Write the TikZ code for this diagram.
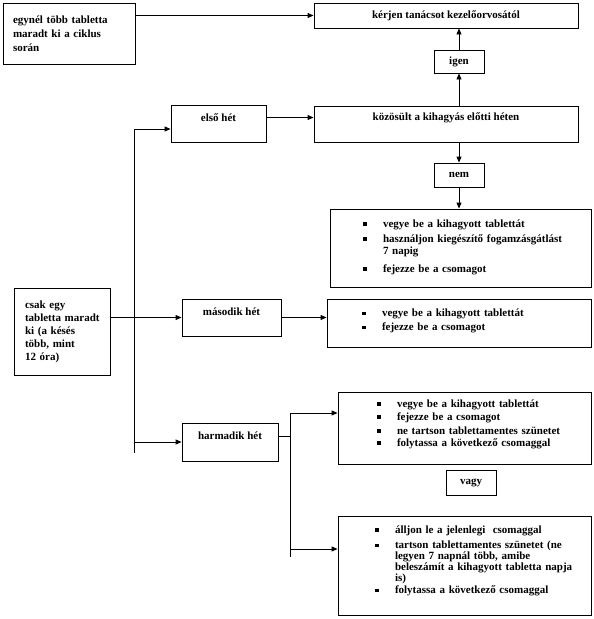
\documentclass[tikz,border=0pt]{standalone}
\usepackage{fontspec}
\setmainfont{Liberation Serif}
\usetikzlibrary{arrows.meta, positioning}

\newcommand{\pont}{\makebox[20pt][l]{\rule[1.5pt]{3.5pt}{3.5pt}}}
\newcommand{\beljebb}{\hspace*{20pt}}

\begin{document}
\lineskiplimit=-20pt
\begin{tikzpicture}[x=1pt, y=-1pt, line width=0.9pt,
    every node/.style={font=\fontsize{11}{12}\selectfont\bfseries},
    keret/.style 2 args={draw, inner sep=0pt, minimum width=#1, minimum height=#2},
    magas/.style={text height=16pt, text depth=21pt},
    lista/.style={align=left, inner xsep=4pt, text width=#1},
    nyil/.style={-{Triangle[length=6pt, width=5pt]}}]
    \useasboundingbox (0,0) rectangle (594,619);

    % Felso resz
    \node[keret={132pt}{61pt}, lista={124pt}, font=\fontsize{11}{14}\selectfont\bfseries]
        (egynel) at (69,33.5) {\leftskip=6pt egynél több tabletta\\ maradt ki a ciklus\\ során\par};
    \node[keret={264pt}{25pt}] (kerjen) at (446,15.5) {kérjen tanácsot kezelőorvosától};
    \node[keret={50pt}{23pt}] (igen) at (459,61.5) {igen};
    \node[keret={264pt}{36pt}, text height=14pt, text depth=22pt] (kozosult) at (446,124) {közösült a kihagyás előtti héten};
    \node[keret={95pt}{37pt}, magas] (elso) at (218.5,123.5) {első hét};
    \node[keret={50pt}{24pt}] (nem) at (459,175) {nem};
    \node[keret={261pt}{78pt}, lista={253pt}] (lista1) at (460.5,248)
        {\leftskip=29pt
         \pont vegye be a kihagyott tablettát\\[3pt]
         \pont használjon kiegészítő fogamzásgátlást\\
         \beljebb 7 napig\\[6pt]
         \pont fejezze be a csomagot\par\kern2pt};

    % Kozepso resz
    \node[keret={96pt}{87pt}, lista={88pt}, font=\fontsize{11}{13}\selectfont\bfseries]
        (csak) at (62,331.5) {\leftskip=7pt csak egy\\ tabletta maradt\\ ki (a késés\\ több, mint\\ 12 óra)\par};
    \node[keret={99pt}{37pt}, magas] (masodik) at (231.5,317.5) {második hét};
    \node[keret={264pt}{48pt}, lista={256pt}] (lista2) at (459,323)
        {\leftskip=31pt
         \pont vegye be a kihagyott tablettát\\[2pt]
         \pont fejezze be a csomagot\par\kern4pt};

    % Also resz
    \node[keret={96pt}{38pt}, magas] (harmadik) at (230,442) {harmadik hét};
    \node[keret={253pt}{72pt}, lista={245pt}] (lista3) at (464.5,428)
        {\leftskip=35pt
         \pont vegye be a kihagyott tablettát\\[1pt]
         \pont fejezze be a csomagot\\[2pt]
         \pont ne tartson tablettamentes szünetet\\
         \pont folytassa a következő csomaggal\par\kern8pt};
    \node[keret={50pt}{25pt}] (vagy) at (471,482.5) {vagy};
    \node[keret={253pt}{99pt}, lista={245pt}, font=\fontsize{11}{9.5}\selectfont\bfseries] (lista4) at (464.5,565.5)
        {\leftskip=33pt
         \pont álljon le a jelenlegi\ \ csomaggal\\[4pt]
         \pont tartson tablettamentes szünetet (ne\\
         \beljebb legyen 7 napnál több, amibe\\
         \beljebb beleszámít a kihagyott tabletta napja\\
         \beljebb is)\\[1pt]
         \pont folytassa a következő csomaggal\par\kern9pt};

    % Ag pontok
    \coordinate (torzs1) at (134,129);
    \coordinate (torzs2) at (134,453);
    \coordinate (ag1) at (290,413);
    \coordinate (ag2) at (290,557);

    % Nyilak
    \draw[nyil] (egynel.east |- kerjen.west) -- (kerjen.west);
    \draw[nyil] (igen.south |- kozosult.north) -- (igen.south);
    \draw[nyil] (igen.north) -- (igen.north |- kerjen.south);
    \draw[nyil] (nem.north |- kozosult.south) -- (nem.north);
    \draw[nyil] (nem.south) -- (nem.south |- lista1.north);
    \draw[nyil] ([yshift=6pt]elso.east) -- ([yshift=6pt]elso.east -| kozosult.west);
    \draw (torzs1) -- (torzs2);
    \draw[nyil] (torzs1) -- (torzs1 -| elso.west);
    \draw[nyil] (csak.east |- masodik.west) -- (masodik.west);
    \draw[nyil] (masodik.east) -- (masodik.east -| lista2.west);
    \draw[nyil] (torzs2 |- harmadik.west) -- (harmadik.west);
    \draw ([yshift=6pt]harmadik.east) -- ([yshift=6pt]harmadik.east -| ag1);
    \draw (ag1) -- (ag2);
    \draw[nyil] (ag1) -- (ag1 -| lista3.west);
    \draw[nyil] ([yshift=8pt]ag2) -- ([yshift=8pt]ag2 -| lista4.west);
\end{tikzpicture}
\end{document}
